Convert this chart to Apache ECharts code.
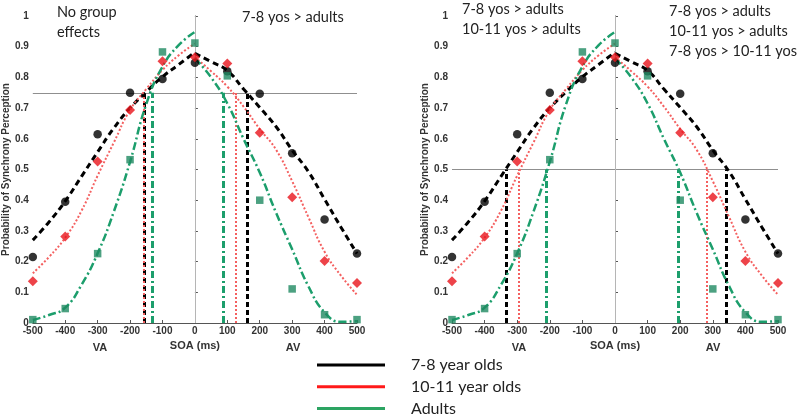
<!DOCTYPE html>
<html><head><meta charset="utf-8">
<script src="https://cdn.jsdelivr.net/npm/echarts@6/dist/echarts.min.js"></script>
<style>html,body{margin:0;padding:0;background:#fff}#c{width:800px;height:418px}</style>
</head><body><div id="c"></div>
<script>
// ---- data ----
const soa = [-500, -400, -300, -200, -100, 0, 100, 200, 300, 400, 500];
const kids78 = [0.215, 0.395, 0.615, 0.75, 0.795, 0.848, 0.82, 0.747, 0.553, 0.337, 0.226];
const kids1011 = [0.136, 0.282, 0.526, 0.694, 0.853, 0.866, 0.845, 0.62, 0.41, 0.202, 0.13];
const adults = [0.011, 0.047, 0.226, 0.532, 0.883, 0.912, 0.805, 0.40, 0.111, 0.027, 0.011];

// fitted curves, read at 50 ms steps
const fitXLeft = [-500, -450, -400, -350, -300, -250, -200, -150, -100, -50, 0];
const fitXRight = [0, 50, 100, 150, 200, 250, 300, 350, 400, 450, 500];
const fitKids78Left = [0.27, 0.329, 0.397, 0.477, 0.557, 0.635, 0.70, 0.753, 0.802, 0.842, 0.882];
const fitKids78Right = [0.878, 0.851, 0.822, 0.762, 0.702, 0.64, 0.563, 0.493, 0.403, 0.313, 0.226];
const fitKids1011Left = [0.162, 0.215, 0.278, 0.365, 0.48, 0.588, 0.694, 0.762, 0.824, 0.872, 0.91];
const fitKids1011Right = [0.866, 0.82, 0.77, 0.705, 0.632, 0.565, 0.462, 0.345, 0.232, 0.155, 0.092];
const fitAdultsLeft = [0.01, 0.026, 0.05, 0.124, 0.227, 0.363, 0.525, 0.713, 0.835, 0.905, 0.948];
const fitAdultsRight = [0.862, 0.80, 0.715, 0.60, 0.49, 0.36, 0.24, 0.12, 0.035, 0.004, 0.006];

// criteria and threshold SOAs (left: 0.75, right: 0.5)
const criteria = [0.75, 0.5];
const thrKids78 = [[-157, 160], [-335, 340]];
const thrKids1011 = [[-157, 126], [-294, 281]];
const thrAdults = [[-133, 88], [-210, 194]];

const xTicks = {min: -500, max: 500, interval: 100};
const seriesNames = ['7-8 year olds', '10-11 year olds', 'Adults'];
const panelNotes = [
  [['No group', 'effects'], ['7-8 yos > adults']],
  [['7-8 yos > adults', '10-11 yos > adults'], ['7-8 yos > adults', '10-11 yos > adults', '7-8 yos > 10-11 yos']]
];

// ---- styling ----
const groups = [
  {name: seriesNames[0], pts: kids78, left: fitKids78Left, right: fitKids78Right, thr: thrKids78,
   mColor: '#000000', symbol: 'circle', size: 8.5,
   line: {color: '#000000', width: 3, type: [6, 4]}, vline: {color: '#000000', width: 3, type: [5, 3]}, legendColor: '#000000'},
  {name: seriesNames[1], pts: kids1011, left: fitKids1011Left, right: fitKids1011Right, thr: thrKids1011,
   mColor: '#e8141b', symbol: 'diamond', size: 10,
   line: {color: '#f46060', width: 2, type: [2, 2]}, vline: {color: '#f46060', width: 2, type: [2, 2]}, legendColor: '#ff1a1a'},
  {name: seriesNames[2], pts: adults, left: fitAdultsLeft, right: fitAdultsRight, thr: thrAdults,
   mColor: '#1f8a62', symbol: 'rect', size: 7.5,
   line: {color: '#1c9e6c', width: 2.5, type: [8, 3, 2, 3]}, vline: {color: '#1c9e6c', width: 3, type: [7, 3, 2, 3]}, legendColor: '#2ca462'}
];

const gridLefts = [31, 452];
const grids = gridLefts.map(l => ({left: l, top: 16, width: 326, height: 307}));
const axisFont = 'Liberation Sans, Arial, sans-serif';
const noteFont = 'Lato, "Open Sans", sans-serif';

const xAxes = gridLefts.map((l, p) => ({
  gridIndex: p, type: 'value', min: xTicks.min, max: xTicks.max, interval: xTicks.interval,
  name: 'SOA (ms)', nameLocation: 'middle', nameGap: 14,
  nameTextStyle: {fontFamily: axisFont, fontSize: 11, fontWeight: 'bold', color: '#333'},
  axisLine: {show: true, onZero: false, lineStyle: {color: '#555', width: 1}},
  axisTick: {show: true, inside: true, length: 3, lineStyle: {color: '#555'}},
  axisLabel: {margin: 3, fontFamily: axisFont, fontSize: 10, fontWeight: 'bold', color: '#333'},
  splitLine: {show: false}
}));
const yAxes = gridLefts.map((l, p) => ({
  gridIndex: p, type: 'value', min: 0, max: 1, interval: 0.1,
  name: 'Probability of Synchrony Perception', nameLocation: 'middle', nameGap: 18,
  nameTextStyle: {fontFamily: axisFont, fontSize: 10, fontWeight: 'bold', color: '#333'},
  axisLine: {show: true, lineStyle: {color: '#555', width: 1}},
  axisTick: {show: true, inside: true, length: 3, lineStyle: {color: '#555'}},
  axisLabel: {margin: 4, fontFamily: axisFont, fontSize: 10, fontWeight: 'bold', color: '#333',
              formatter: v => String(+v.toFixed(1))},
  splitLine: {show: false}
}));

const series = [];
[0, 1].forEach(p => {
  const c = criteria[p];
  groups.forEach((g, gi) => {
    const curveStyle = {symbol: 'none', silent: true, label: {show: false}, z: 3, lineStyle: g.vline, emphasis: {disabled: true}};
    series.push({
      name: g.name, type: 'line', xAxisIndex: p, yAxisIndex: p, smooth: 0.5,
      showSymbol: false, symbol: 'none', lineStyle: g.line, z: 3, silent: true,
      data: fitXLeft.map((x, i) => [x, g.left[i]]),
      markLine: Object.assign({}, curveStyle, {data: [[{coord: [g.thr[p][0], 0]}, {coord: [g.thr[p][0], c]}]]})
    });
    series.push({
      name: g.name, type: 'line', xAxisIndex: p, yAxisIndex: p, smooth: 0.5,
      showSymbol: false, symbol: 'none', lineStyle: g.line, z: 3, silent: true,
      data: fitXRight.map((x, i) => [x, g.right[i]]),
      markLine: Object.assign({}, curveStyle, {data: [[{coord: [g.thr[p][1], 0]}, {coord: [g.thr[p][1], c]}]]})
    });
    const sc = {
      name: g.name, type: 'scatter', xAxisIndex: p, yAxisIndex: p,
      symbol: g.symbol, symbolSize: g.size, itemStyle: {color: g.mColor}, z: 6,
      data: soa.map((x, i) => [x, g.pts[i]])
    };
    if (gi === 0) {
      sc.markLine = {
        symbol: 'none', silent: true, label: {show: false}, z: 1, emphasis: {disabled: true},
        data: [
          {yAxis: c, lineStyle: {color: '#8f8f8f', width: 1, type: 'solid'}},
          [{coord: [0, 0], lineStyle: {color: '#b5b5b5', width: 1, type: 'solid'}}, {coord: [0, 1]}]
        ]
      };
    }
    series.push(sc);
  });
});

// annotation texts
const graphics = [];
const noteStyle = (t, x, y) => ({type: 'text', left: x, top: y, silent: true,
  style: {text: t, fontFamily: noteFont, fontSize: 14.5, fill: '#222', lineHeight: 20}});
graphics.push(noteStyle(panelNotes[0][0].join('\n'), 57, 2));
graphics.push(noteStyle(panelNotes[0][1].join('\n'), 242, 7));
graphics.push(noteStyle(panelNotes[1][0].join('\n'), 462, -1));
graphics.push(noteStyle(panelNotes[1][1].join('\n'), 669, 1));
const sideLabel = (t, x) => ({type: 'text', silent: true, x: x, y: 348,
  style: {text: t, fontFamily: axisFont, fontSize: 11, fontWeight: 'bold', fill: '#333', align: 'center', verticalAlign: 'middle'}});
graphics.push(sideLabel('VA', 100), sideLabel('AV', 293), sideLabel('VA', 519), sideLabel('AV', 713));

const chart = echarts.init(document.getElementById('c'));
chart.setOption({
  animation: false,
  backgroundColor: '#fff',
  grid: grids,
  xAxis: xAxes,
  yAxis: yAxes,
  legend: {
    orient: 'vertical', left: 317, top: 357, padding: 0, itemWidth: 68, itemHeight: 3, itemGap: 5.7,
    icon: 'rect',
    textStyle: {fontFamily: noteFont, fontSize: 16, color: '#222', lineHeight: 16, padding: [0, 0, 0, 21]},
    data: groups.map(g => ({name: g.name, icon: 'rect', itemStyle: {color: g.legendColor, borderWidth: 0}}))
  },
  graphic: graphics,
  series: series
});
</script>
</body></html>
